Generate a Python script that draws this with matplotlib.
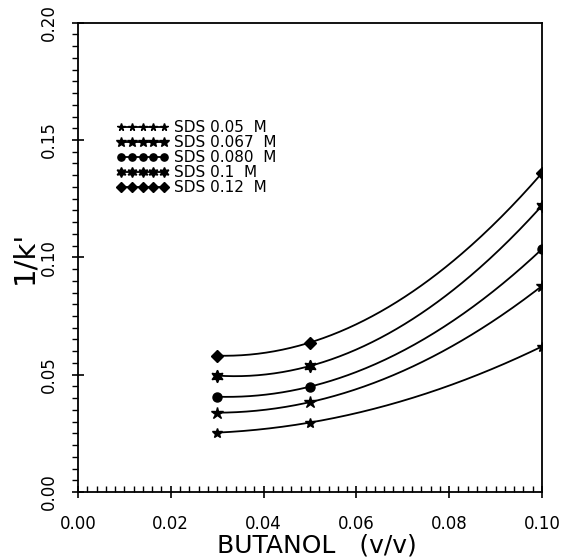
import numpy as np
import matplotlib
matplotlib.use('Agg')
import matplotlib.pyplot as plt
from matplotlib.lines import Line2D
from matplotlib.ticker import MultipleLocator, FormatStrFormatter

# butanol fraction (v/v) and 1/k' for each SDS concentration
butanol = [0.03, 0.05, 0.10]
sds_005 = [0.0253, 0.0296, 0.0620]
sds_0067 = [0.0338, 0.0383, 0.0878]
sds_0080 = [0.0406, 0.0449, 0.1035]
sds_01 = [0.0496, 0.0537, 0.1220]
sds_012 = [0.0581, 0.0637, 0.1359]

labels = ['SDS 0.05  M', 'SDS 0.067  M', 'SDS 0.080  M', 'SDS 0.1  M', 'SDS 0.12  M']
series = [sds_005, sds_0067, sds_0080, sds_01, sds_012]
markers = ['*', '*', 'o', (6, 1, 0), 'D']
msizes = [7, 9, 6.5, 9, 6]

plt.rcParams['font.family'] = 'DejaVu Sans'

fig = plt.figure(figsize=(5.61, 5.58), dpi=100)
ax = fig.add_axes([0.139, 0.1183, 0.827, 0.841])

xs = np.linspace(butanol[0], butanol[-1], 200)
handles = []
for y, m, ms, lab in zip(series, markers, msizes, labels):
    # smooth 2nd order curve through the measured points
    coef = np.polyfit(butanol, y, 2)
    ax.plot(xs, np.polyval(coef, xs), color='black', lw=1.3)
    ax.plot(butanol, y, linestyle='none', marker=m, ms=ms, color='black')
    handles.append(Line2D([], [], color='black', lw=1.3, marker=m, ms=ms * 0.8, label=lab))

ax.set_xlim(0, 0.10)
ax.set_ylim(0, 0.20)

ax.xaxis.set_major_locator(MultipleLocator(0.02))
ax.xaxis.set_minor_locator(MultipleLocator(0.002))
ax.yaxis.set_major_locator(MultipleLocator(0.05))
ax.yaxis.set_minor_locator(MultipleLocator(0.005))
ax.xaxis.set_major_formatter(FormatStrFormatter('%.2f'))
ax.yaxis.set_major_formatter(FormatStrFormatter('%.2f'))

ax.tick_params(axis='x', which='major', direction='inout', length=9, width=1.2, pad=12, labelsize=12)
ax.tick_params(axis='x', which='minor', direction='in', length=4, width=1.0)
ax.tick_params(axis='y', which='major', direction='inout', length=9, width=1.2, pad=10, labelsize=12,
               labelrotation=90)
ax.tick_params(axis='y', which='minor', direction='out', length=4, width=1.0)
for t in ax.get_yticklabels():
    t.set_va('center')

for s in ax.spines.values():
    s.set_linewidth(1.3)

ax.set_xlabel('BUTANOL   (v/v)', fontsize=18, va='center')
ax.xaxis.set_label_coords(0.515, -0.113)
ax.set_ylabel("1/k'", fontsize=21, va='center')
ax.yaxis.set_label_coords(-0.116, 0.5)

ax.legend(handles=handles, loc='upper left', bbox_to_anchor=(0.07, 0.805), frameon=False,
          numpoints=5, handlelength=3.4, handletextpad=0.35, labelspacing=0.0, fontsize=11,
          borderaxespad=0)

fig.savefig('out.png', dpi=100)
